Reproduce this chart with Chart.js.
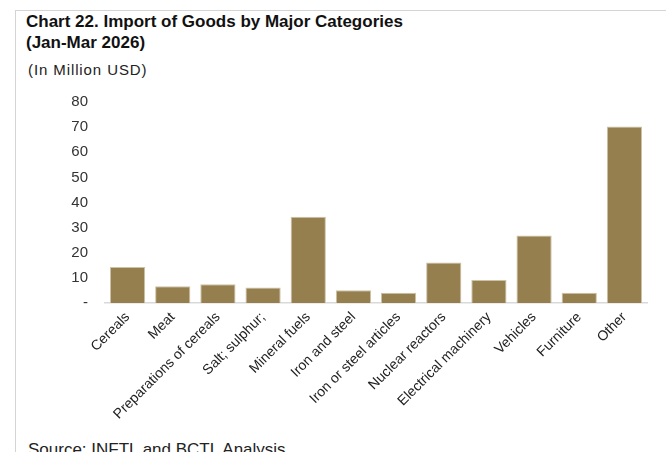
<!DOCTYPE html>
<html>
<head>
<meta charset="utf-8">
<script src="https://cdn.jsdelivr.net/npm/chart.js@4.4.1/dist/chart.umd.min.js"></script>
<style>
  html, body { margin: 0; padding: 0; background: #fff; overflow: hidden; }
  body { width: 666px; height: 452px; position: relative; font-family: "Liberation Sans", Arial, sans-serif; }
  .frame { position: absolute; left: 15px; top: 10px; right: -2px; bottom: -2px; border-left: 1.5px solid #d4d4d4; border-top: 1.5px solid #d4d4d4; }
  .title { position: absolute; left: 26px; top: 11px; font-size: 17px; font-weight: bold; line-height: 21px; color: #111; letter-spacing: 0; }
  .unit { position: absolute; left: 28px; top: 61px; font-size: 15px; color: #222; letter-spacing: 0.9px; }
  .source { position: absolute; left: 28px; top: 440px; font-size: 17px; color: #222; }
  #wrap { position: absolute; left: 60px; top: 76px; width: 600px; height: 352px; }
</style>
</head>
<body>
<div class="frame"></div>
<div class="title">Chart 22. Import of Goods by Major Categories<br>(Jan-Mar 2026)</div>
<div class="unit">(In Million USD)</div>
<div id="wrap"><canvas id="myChart"></canvas></div>
<div class="source">Source: INFTL and BCTL Analysis</div>
<script>
const categories = ['Cereals', 'Meat', 'Preparations of cereals', 'Salt; sulphur;', 'Mineral fuels',
  'Iron and steel', 'Iron or steel articles', 'Nuclear reactors', 'Electrical machinery',
  'Vehicles', 'Furniture', 'Other'];
const imports = [14.3, 6.7, 7.5, 6.2, 34.3, 5.1, 4.1, 16.1, 9.2, 26.9, 4.1, 70.2];
const yTicks = [0, 10, 20, 30, 40, 50, 60, 70, 80];

const ctx = document.getElementById('myChart');

new Chart(ctx, {
    type: 'bar',
    data: {
        labels: categories,
        datasets: [{
            label: 'Imports',
            data: imports,
            backgroundColor: '#967f4f',
            borderColor: '#cdc2a6',
            borderWidth: 1,
            categoryPercentage: 1,
            barPercentage: 0.78
        }]
    },
    options: {
        responsive: true,
        maintainAspectRatio: false,
        animation: false,
        layout: { padding: { top: 3, right: 13, left: 0, bottom: 0 } },
        plugins: {
            legend: { display: false },
            tooltip: { enabled: false }
        },
        scales: {
            x: {
                grid: { display: false, drawTicks: false },
                border: { display: true, color: '#d9d9d9', width: 1.5 },
                ticks: {
                    minRotation: 45,
                    maxRotation: 45,
                    autoSkip: false,
                    padding: 6,
                    color: '#222',
                    font: { family: 'Liberation Sans', size: 14 }
                },
                afterFit: (axis) => { axis.height = 125; }
            },
            y: {
                min: 0,
                max: 80,
                afterBuildTicks: (axis) => { axis.ticks = yTicks.map(v => ({ value: v })); },
                grid: { display: false, drawTicks: false },
                border: { display: false },
                ticks: {
                    padding: 17,
                    color: '#333',
                    font: { family: 'Liberation Sans', size: 15 },
                    callback: (v) => v === 0 ? '-' : v
                },
                afterFit: (axis) => { axis.width = 45; }
            }
        }
    }
});
</script>
</body>
</html>
